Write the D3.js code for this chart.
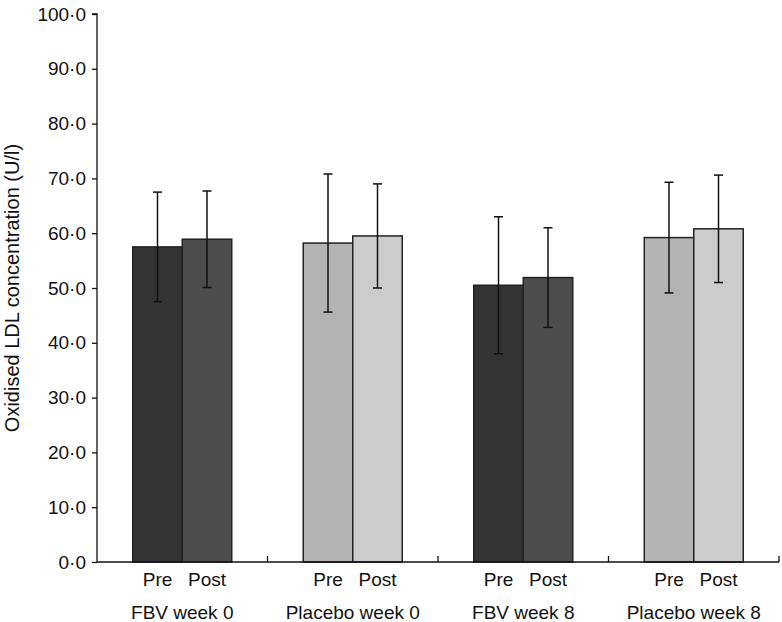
<!DOCTYPE html>
<html><head><meta charset="utf-8">
<script src="https://cdn.jsdelivr.net/npm/d3@7"></script>
<style>body{margin:0;background:#fff;}svg{display:block;font-family:"Liberation Sans",Arial,sans-serif;}</style>
</head><body>
<svg id="chart" width="782" height="622"></svg>
<script>
const groups = ["FBV week 0", "Placebo week 0", "FBV week 8", "Placebo week 8"];
const phases = ["Pre", "Post"];
const preMeans = [57.5, 58.2, 50.5, 59.2];
const postMeans = [58.9, 59.5, 51.9, 60.8];
const preSD = [10.0, 12.6, 12.5, 10.1];
const postSD = [8.8, 9.5, 9.1, 9.8];
const yTicks = [0, 10, 20, 30, 40, 50, 60, 70, 80, 90, 100];
const colors = {"FBV": ["#333333", "#4d4d4d"], "Placebo": ["#b3b3b3", "#cccccc"]};

(function () {
const svg = d3.select("#chart");
const mLeft = 97, mRight = 779, mTop = 14, mBottom = 562;
const fs = 19;
const x = d3.scaleBand().domain(groups).range([mLeft, mRight]).padding(0);
const y = d3.scaleLinear().domain([0, 100]).range([mBottom, mTop]);
const barW = 49.5;

const data = [];
groups.forEach((g, i) => {
  data.push({g, phase: phases[0], mean: preMeans[i], sd: preSD[i], k: 0});
  data.push({g, phase: phases[1], mean: postMeans[i], sd: postSD[i], k: 1});
});
const cx = d => x(d.g) + x.bandwidth() / 2 + (d.k === 0 ? -barW / 2 : barW / 2);
const fillOf = d => colors[d.g.startsWith("FBV") ? "FBV" : "Placebo"][d.k];

svg.selectAll("rect.bar").data(data).enter().append("rect")
  .attr("class", "bar")
  .attr("x", d => cx(d) - barW / 2)
  .attr("y", d => y(d.mean))
  .attr("width", barW)
  .attr("height", d => y(0) - y(d.mean))
  .attr("fill", fillOf)
  .attr("stroke", "#222")
  .attr("stroke-width", 1.5);

const eb = svg.selectAll("g.eb").data(data).enter().append("g").attr("class", "eb")
  .attr("stroke", "#111").attr("stroke-width", 1.5);
eb.append("line").attr("x1", cx).attr("x2", cx)
  .attr("y1", d => y(d.mean + d.sd)).attr("y2", d => y(d.mean - d.sd));
eb.append("line").attr("x1", d => cx(d) - 4.5).attr("x2", d => cx(d) + 4.5)
  .attr("y1", d => y(d.mean + d.sd)).attr("y2", d => y(d.mean + d.sd));
eb.append("line").attr("x1", d => cx(d) - 4.5).attr("x2", d => cx(d) + 4.5)
  .attr("y1", d => y(d.mean - d.sd)).attr("y2", d => y(d.mean - d.sd));

// Y axis
const yAxis = d3.axisLeft(y).tickValues(yTicks).tickSize(5).tickPadding(6)
  .tickFormat(d => d3.format(".1f")(d).replace(".", "·"));
const ya = svg.append("g").attr("transform", `translate(${mLeft},0)`).call(yAxis);
ya.select(".domain").attr("d", `M-5,${mTop}H0V${mBottom}`).attr("stroke", "#111").attr("stroke-width", 1.3);
ya.selectAll(".tick line").attr("stroke", "#111").attr("stroke-width", 1.3);
ya.selectAll(".tick text").attr("font-size", fs).attr("fill", "#111")
  .attr("font-family", "Liberation Sans, Arial, sans-serif");

// X axis
const xa = svg.append("g");
xa.append("line").attr("x1", mLeft).attr("x2", mRight).attr("y1", mBottom).attr("y2", mBottom)
  .attr("stroke", "#111").attr("stroke-width", 1.3);
xa.selectAll("line.sep").data(groups).enter().append("line").attr("class", "sep")
  .attr("x1", g => x(g) + x.bandwidth()).attr("x2", g => x(g) + x.bandwidth())
  .attr("y1", mBottom).attr("y2", mBottom - 6)
  .attr("stroke", "#111").attr("stroke-width", 1.3);

svg.selectAll("text.phase").data(data).enter().append("text").attr("class", "phase")
  .attr("x", cx).attr("y", 586).attr("text-anchor", "middle")
  .attr("font-size", fs).attr("fill", "#111").text(d => d.phase);

svg.selectAll("text.grp").data(groups).enter().append("text").attr("class", "grp")
  .attr("x", g => x(g) + x.bandwidth() / 2).attr("y", 619).attr("text-anchor", "middle")
  .attr("font-size", fs).attr("fill", "#111").text(g => g);

svg.append("text")
  .attr("transform", `translate(19,288) rotate(-90)`)
  .attr("text-anchor", "middle").attr("font-size", 20).attr("fill", "#111")
  .text("Oxidised LDL concentration (U/l)");
})();
</script>
</body></html>
